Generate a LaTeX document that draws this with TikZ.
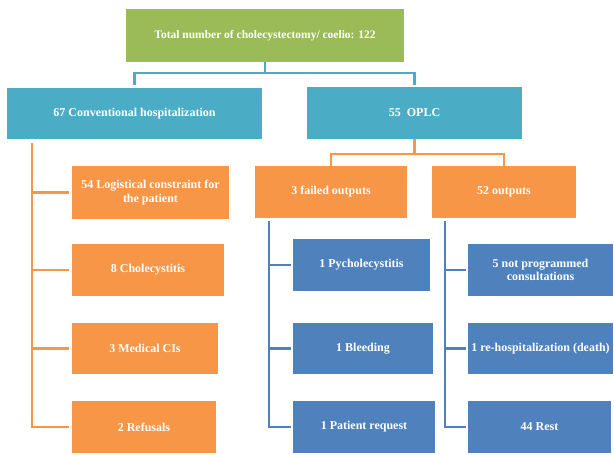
\documentclass[tikz,border=0pt]{standalone}
\usepackage{fontspec}
\setmainfont{Liberation Serif}
\usetikzlibrary{calc}
\definecolor{cgreen}{HTML}{9BBB59}
\definecolor{cteal}{HTML}{4BACC6}
\definecolor{corange}{HTML}{F79646}
\definecolor{cblue}{HTML}{4F81BD}
\begin{document}
\begin{tikzpicture}[x=1pt,y=-1pt,
  box/.style={rectangle, inner sep=0pt, text=white, align=center,
    font=\fontsize{12}{13.5}\selectfont\bfseries},
  gbox/.style={box, fill=cgreen},
  tbox/.style={box, fill=cteal},
  obox/.style={box, fill=corange},
  bbox/.style={box, fill=cblue},
  tline/.style={draw=cteal, line width=2.2pt},
  oline/.style={draw=corange, line width=2.2pt},
  bline/.style={draw=cblue, line width=2.2pt},
]
\useasboundingbox[fill=white] (0,0) rectangle (614,455);

% level 0
\node[gbox, minimum width=278pt, minimum height=53pt, font=\fontsize{11.5}{13}\selectfont\bfseries] (top) at (265,35.5) {Total number of cholecystectomy/ coelio: 122};

% level 1
\node[tbox, minimum width=255pt, minimum height=51pt] (hosp) at (134.5,113.5) {67 Conventional hospitalization};
\node[tbox, minimum width=215pt, minimum height=52pt] (oplc) at (414.5,113) {55\ \ OPLC};

% left column
\node[obox, minimum width=157pt, minimum height=53pt] (log) at (150.5,192.5) {54 Logistical constraint for\\the patient};
\node[obox, minimum width=152pt, minimum height=52pt] (chol) at (148,270) {8 Cholecystitis};
\node[obox, minimum width=146pt, minimum height=51pt] (med) at (145,348.5) {3 Medical CIs};
\node[obox, minimum width=144pt, minimum height=52pt] (ref) at (144,427) {2 Refusals};

% level 2 right
\node[obox, minimum width=152pt, minimum height=52pt] (failed) at (331,192) {3 failed outputs};
\node[obox, minimum width=144pt, minimum height=52pt] (outs) at (504,192) {52 outputs};

% middle column
\node[bbox, minimum width=137pt, minimum height=52pt] (pyc) at (361.5,265) {1 Pycholecystitis};
\node[bbox, minimum width=140pt, minimum height=51pt] (bleed) at (363,348.5) {1 Bleeding};
\node[bbox, minimum width=142pt, minimum height=52pt] (preq) at (364,427) {1 Patient request};

% right column
\node[bbox, minimum width=145pt, minimum height=52pt] (notp) at (540.5,270) {5 not programmed\\consultations};
\node[bbox, minimum width=145pt, minimum height=51pt] (rehosp) at (540.5,348.5) {1 re-hospitalization (death)};
\node[bbox, minimum width=143pt, minimum height=52pt] (rest) at (539.5,427) {44 Rest};

% connectors top
\coordinate (tj) at ($(top.south)+(0,11)$);
\draw[tline] (top.south) -- (tj) -| ($(hosp.north)+(0,-3)$);
\draw[tline] (tj) -| ($(oplc.north)+(0,-2)$);

% connectors OPLC
\coordinate (oj) at ($(oplc.south)+(0,15)$);
\draw[oline] (oplc.south) -- (oj) -| (failed.north);
\draw[oline] (oj) -| (outs.north);

% left spine
\coordinate (spL) at ($(hosp.south west)+(25,4)$);
\draw[oline] (spL) |- ($(ref.west)+(-3,0)$);
\draw[oline] (spL |- log.west) -- ($(log.west)+(-3,0)$);
\draw[oline] (spL |- chol.west) -- ($(chol.west)+(-3,0)$);
\draw[oline] (spL |- med.west) -- ($(med.west)+(-3,0)$);

% middle spine
\coordinate (spM) at ($(failed.south west)+(14,3)$);
\draw[bline] (spM) |- ($(preq.west)+(-2,0)$);
\draw[bline] (spM |- pyc.west) -- ($(pyc.west)+(-2,0)$);
\draw[bline] (spM |- bleed.west) -- ($(bleed.west)+(-2,0)$);

% right spine
\coordinate (spR) at ($(outs.south west)+(13,3)$);
\draw[bline] (spR) |- ($(rest.west)+(-2,0)$);
\draw[bline] (spR |- notp.west) -- ($(notp.west)+(-2,0)$);
\draw[bline] (spR |- rehosp.west) -- ($(rehosp.west)+(-2,0)$);
\end{tikzpicture}
\end{document}
